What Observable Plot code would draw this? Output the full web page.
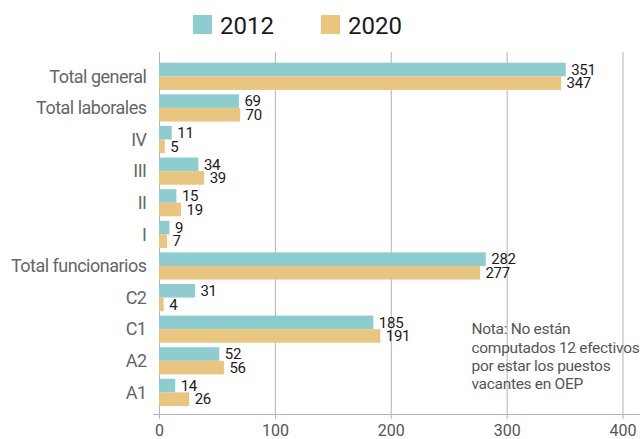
<!DOCTYPE html>
<html>
<head>
<meta charset="utf-8">
<script src="https://cdn.jsdelivr.net/npm/d3@7"></script>
<script src="https://cdn.jsdelivr.net/npm/@observablehq/plot@0.6"></script>
<style>
  body { margin: 0; background: #fff; font-family: Roboto, sans-serif; }
  #legend { position: relative; height: 48px; width: 640px; }
  #legend .sw { position: absolute; top: 15px; width: 19px; height: 19px; }
  #legend .lb { position: absolute; top: 14px; font-size: 24px; line-height: 24px; color: #1a1a1a; }
  #chart svg { display: block; }
  #chart g[aria-label="y-axis tick label"] text { letter-spacing: -0.5px; }
  #chart g[aria-label="text"] text { letter-spacing: -0.3px; }
</style>
</head>
<body>
<div id="legend"></div>
<div id="chart"></div>
<script>
const categories = ["Total general", "Total laborales", "IV", "III", "II", "I", "Total funcionarios", "C2", "C1", "A2", "A1"];
const values2012 = [351, 69, 11, 34, 15, 9, 282, 31, 185, 52, 14];
const values2020 = [347, 70, 5, 39, 19, 7, 277, 4, 191, 56, 26];
const years = ["2012", "2020"];
const colors = ["#8dcdcf", "#e9c57f"];
const xTicks = [0, 100, 200, 300, 400];
const noteLines = ["Nota: No están", "computados 12 efectivos", "por estar los puestos", "vacantes en OEP"];

// Legend
const legendPos = [[193, 220], [321, 348]];
const legend = document.getElementById("legend");
years.forEach((y, i) => {
  const sw = document.createElement("span");
  sw.className = "sw";
  sw.style.left = legendPos[i][0] + "px";
  sw.style.background = colors[i];
  legend.appendChild(sw);
  const lb = document.createElement("span");
  lb.className = "lb";
  lb.style.left = legendPos[i][1] + "px";
  lb.textContent = y;
  legend.appendChild(lb);
});

const d2012 = categories.map((c, i) => ({cat: c, value: values2012[i]}));
const d2020 = categories.map((c, i) => ({cat: c, value: values2020[i]}));

const chart = Plot.plot({
  width: 640,
  height: 391,
  marginLeft: 159,
  marginRight: 17.5,
  marginTop: 4,
  marginBottom: 25,
  style: {fontFamily: "Roboto, sans-serif", background: "white"},
  x: {domain: [0, 400], label: null},
  y: {domain: categories, padding: 0.14, insetTop: 6.3, insetBottom: 3.6, round: false, label: null},
  marks: [
    Plot.ruleX(xTicks, {stroke: "#b3b3b3"}),
    Plot.frame({anchor: "bottom", stroke: "#b3b3b3", insetLeft: -6, insetRight: -17.5}),
    Plot.barX(d2012, {x: "value", y: "cat", fill: colors[0], insetBottom: 13.6}),
    Plot.barX(d2020, {x: "value", y: "cat", fill: colors[1], insetTop: 13.6}),
    Plot.text(d2012, {x: "value", y: "cat", text: d => String(d.value), dx: 5, dy: -6.8, textAnchor: "start", fontSize: 15, fill: "#1a1a1a"}),
    Plot.text(d2020, {x: "value", y: "cat", text: d => String(d.value), dx: 5, dy: 6.8, textAnchor: "start", fontSize: 15, fill: "#1a1a1a"}),
    Plot.axisX(xTicks, {tickSize: 5, tickPadding: 5, stroke: "#b3b3b3", fill: "#555", fontSize: 16, label: null}),
    Plot.axisY({tickSize: 0, tickPadding: 13, fontSize: 18, fill: "#666", label: null}),
    Plot.text([noteLines.join("\n")], {frameAnchor: "top-left", dx: 312, dy: 269, textAnchor: "start", lineAnchor: "top", fontSize: 15.5, lineHeight: 1.17, fill: "#555"})
  ]
});
document.getElementById("chart").appendChild(chart);
</script>
</body>
</html>
